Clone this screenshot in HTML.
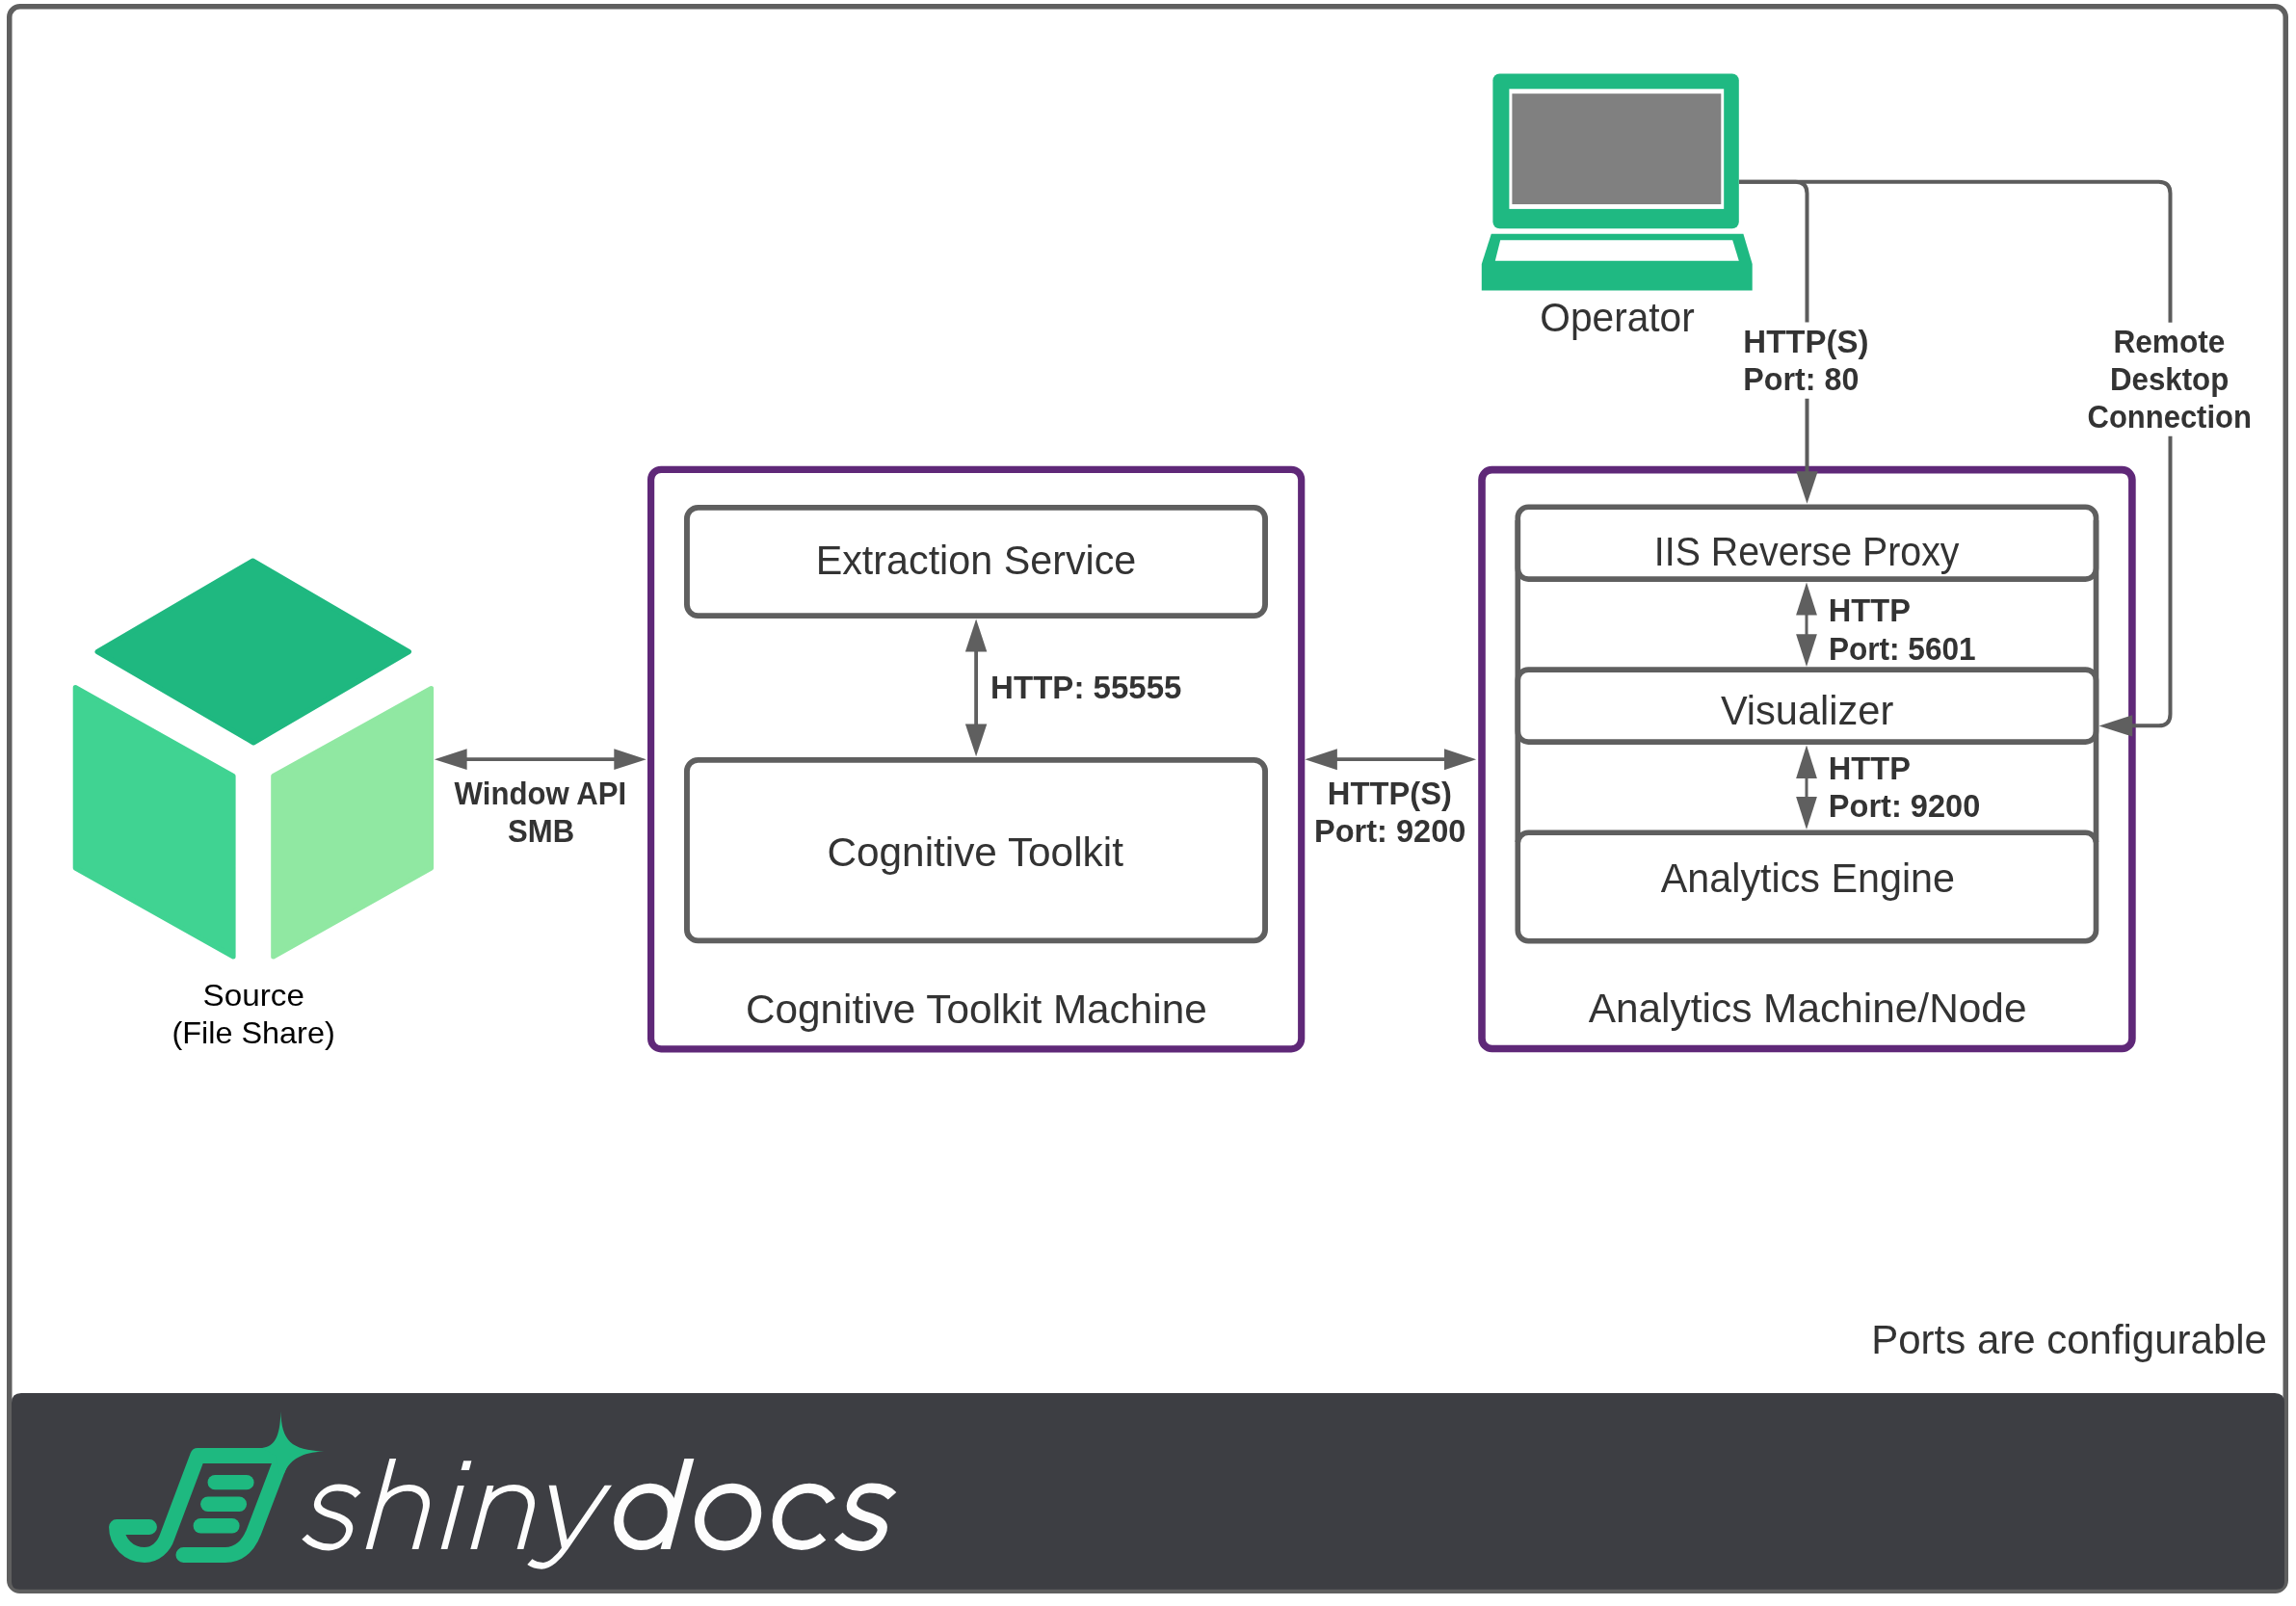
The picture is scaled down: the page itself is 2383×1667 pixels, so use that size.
<!DOCTYPE html>
<html><head><meta charset="utf-8"><style>
html,body{margin:0;padding:0;background:#ffffff;overflow:hidden;}
svg{display:block;will-change:transform;}
text{font-family:"Liberation Sans",sans-serif;}
</style></head><body>
<svg width="2383" height="1667" viewBox="0 0 2383 1667">
<rect width="2383" height="1667" fill="#ffffff"/>
<rect x="9.75" y="6.75" width="2362.5" height="1644.5" rx="11" fill="none" stroke="#5f5f5f" stroke-width="5.5"/>
<path d="M12,1456 Q12,1446 22,1446 H2361 Q2371,1446 2371,1456 V1642 Q2371,1649.8 2363,1649.8 H20 Q12,1649.8 12,1642 Z" fill="#3d3e43"/>
<rect x="1549.4" y="76.5" width="255.4" height="160.8" rx="7" fill="#1fb982"/>
<rect x="1566.4" y="92.3" width="222.8" height="124.6" fill="#ffffff"/>
<rect x="1569.4" y="97.2" width="216.9" height="114.8" fill="#808080"/>
<polygon points="1547.8,242.8 1809.4,242.8 1818.7,274 1818.7,301.4 1537.8,301.4 1537.8,274" fill="#1fb982"/>
<polygon points="1557.2,249.2 1798.2,249.2 1804.8,270.7 1551.8,270.7" fill="#ffffff"/>
<polygon points="262.4,582 424.5,676.5 263.1,771 101,676.5" fill="#1fb880" stroke="#1fb880" stroke-width="5" stroke-linejoin="round"/>
<polygon points="78.2,713.5 242.1,805.5 242.1,993 78.2,901" fill="#40d392" stroke="#40d392" stroke-width="5" stroke-linejoin="round"/>
<polygon points="447.6,714.5 283.7,805.5 283.7,993 447.6,901" fill="#90e8a2" stroke="#90e8a2" stroke-width="5" stroke-linejoin="round"/>
<line x1="484" y1="788.2" x2="638" y2="788.2" stroke="#5f5f5f" stroke-width="3.8"/>
<polygon points="450.9,788.2 484.6,777.3000000000001 484.6,799.1" fill="#5f5f5f"/>
<polygon points="670.8,788.2 637.3,777.3000000000001 637.3,799.1" fill="#5f5f5f"/>
<rect x="675.6" y="487.3" width="675.1" height="601.5" rx="10.5" fill="none" stroke="#5f2878" stroke-width="7.2"/>
<rect x="712.95" y="526.9" width="600.1" height="112.2" rx="11.5" fill="none" stroke="#5f5f5f" stroke-width="5.9"/>
<rect x="712.95" y="788.9" width="600.1" height="187.5" rx="11.5" fill="none" stroke="#5f5f5f" stroke-width="5.9"/>
<line x1="1013.1" y1="676" x2="1013.1" y2="752" stroke="#5f5f5f" stroke-width="3.8"/>
<polygon points="1013.1,642.5 1001.9,676.5 1024.3,676.5" fill="#5f5f5f"/>
<polygon points="1013.1,785.2 1001.9,751.6 1024.3,751.6" fill="#5f5f5f"/>
<line x1="1387" y1="788.2" x2="1500" y2="788.2" stroke="#5f5f5f" stroke-width="3.8"/>
<polygon points="1354.4,788.2 1387.9,777.2 1387.9,799.2" fill="#5f5f5f"/>
<polygon points="1532.1,788.2 1499,777.2 1499,799.2" fill="#5f5f5f"/>
<rect x="1538" y="487.6" width="674.9" height="600.9" rx="10.5" fill="none" stroke="#5f2878" stroke-width="7.6"/>
<line x1="1575.3" y1="540" x2="1575.3" y2="874" stroke="#5f5f5f" stroke-width="5.6"/>
<line x1="2175.5" y1="540" x2="2175.5" y2="874" stroke="#5f5f5f" stroke-width="5.6"/>
<rect x="1575.3" y="526.3" width="600.2" height="74.8" rx="11" fill="none" stroke="#5f5f5f" stroke-width="5.6"/>
<rect x="1575.3" y="695.1" width="600.2" height="75" rx="11" fill="none" stroke="#5f5f5f" stroke-width="5.6"/>
<rect x="1575.3" y="864.2" width="600.2" height="112.6" rx="11" fill="none" stroke="#5f5f5f" stroke-width="5.6"/>
<line x1="1875" y1="638" x2="1875" y2="659" stroke="#5f5f5f" stroke-width="3"/>
<polygon points="1875,604.6 1864.1,638.6 1885.9,638.6" fill="#5f5f5f"/>
<polygon points="1875,691.9 1864.1,658.2 1885.9,658.2" fill="#5f5f5f"/>
<line x1="1875" y1="807" x2="1875" y2="828" stroke="#5f5f5f" stroke-width="3"/>
<polygon points="1875,773.6 1864.1,807.9 1885.9,807.9" fill="#5f5f5f"/>
<polygon points="1875,860.9 1864.1,826.9 1885.9,826.9" fill="#5f5f5f"/>
<path d="M1805,188.7 H1863.5 Q1875.5,188.7 1875.5,200.7 V334.5 M1875.5,413.7 V490" fill="none" stroke="#5c5c5c" stroke-width="4"/>
<path d="M1805,188.7 H2240.5 Q2252.5,188.7 2252.5,200.7 V334.8 M2252.5,452.8 V741.2 Q2252.5,753.3 2240.5,753.3 H2212" fill="none" stroke="#5c5c5c" stroke-width="4"/>
<polygon points="1875.5,522.8 1864.3,489.2 1886.7,489.2" fill="#5f5f5f"/>
<polygon points="2178.5,753.4 2213.2,742.2 2213.2,764.6" fill="#5f5f5f"/>
<defs><clipPath id="yclip"><rect x="400" y="1541.8" width="400" height="100"/></clipPath></defs>
<g fill="none" stroke="#1eb980" stroke-width="15.9" stroke-linejoin="round" stroke-linecap="round">
<path d="M155,1585 H121 A29,29 0 0 0 150,1614 C161,1614 170,1606 173.6,1595 L205.2,1511 H293.5 L263.5,1590 C258,1604 249,1614 233.6,1614 H190.4"/>
</g>
<g fill="#1eb980">
<path d="M291.4,1465 C292.2,1495 302,1505.6 336.1,1506.4 C310,1507.3 299.3,1517.8 294.7,1530 L290,1530 L286,1511 L272,1503 C284.5,1501 290.6,1493 291.4,1465 Z"/>
<rect x="215.5" y="1531.1" width="48.1" height="15.2" rx="7.6"/>
<rect x="208.1" y="1553.4" width="47.9" height="15.5" rx="7.6"/>
<rect x="200.6" y="1576.1" width="48" height="15.3" rx="7.6"/>
</g>
<g transform="matrix(1,0,-0.263,1,422.9,0)" fill="none" stroke="#fdfdfd" stroke-linecap="butt" stroke-linejoin="miter">
<g stroke-width="6.8">
<path d="M356.9,1552.1 C351,1547 343,1544 334.2,1544 C324,1544 316.7,1550 316.7,1558.5 C316.7,1566 324,1569.5 337.5,1573 C351,1577 357.6,1582 357.6,1590 C357.6,1600 350,1606 341.5,1606 C330,1606 320,1601 312.8,1595.2"/>
<path d="M383,1513.9 V1608 M383,1568 C383,1554 393,1544.3 407,1544.3 C421,1544.3 431,1554 431,1568 V1608"/>
<path d="M461,1542 V1608"/>
<path d="M491.7,1542 V1608 M491.7,1568 C491.7,1554 501.7,1544.3 515.8,1544.3 C529.8,1544.3 540,1554 540,1568 V1608"/>
<path clip-path="url(#yclip)" d="M553.3,1536 L586.5,1607 M616.3,1536 L586.2,1607 C582,1617 575,1625.3 567.6,1625.3 C561,1625.3 557,1623.5 553.3,1621.2"/>
</g>
<rect x="457" y="1516.3" width="8.3" height="9.6" fill="#fdfdfd" stroke="none"/>
<g stroke-width="10">
<path d="M690.6,1513.9 V1608"/>
<path d="M911.5,1552.7 C905,1547 897,1544.4 886.9,1544.4 C877,1544.4 871.5,1551 871.5,1559.4 C871.5,1567 878,1571 890.4,1574.5 C903,1578 910.5,1582 910.5,1589 C910.5,1598 903,1604.9 894,1604.9 C883,1604.9 873,1600 866.7,1594.5"/>
</g>
</g>
<g fill="none" stroke="#fdfdfd" stroke-width="10">
<ellipse cx="0" cy="0" rx="27.5" ry="29.6" transform="translate(670,1574.4) skewX(-8)"/>
<ellipse cx="0" cy="0" rx="29.3" ry="29.8" transform="translate(755.6,1574.6) skewX(-7)"/>
<path d="M24.25,-16.3 A29.1,29.5 0 1 0 20.8,20.6" transform="translate(836,1574.4) skewX(-7.4)"/>
</g>

<text x="1598.32" y="343.8" font-size="43.2" fill="#333333" textLength="160.44" lengthAdjust="spacingAndGlyphs">Operator</text>
<text x="846.71" y="596.2" font-size="42.9" fill="#333333" textLength="332.57" lengthAdjust="spacingAndGlyphs">Extraction Service</text>
<text x="858.43" y="898.9" font-size="42.9" fill="#333333" textLength="307.49" lengthAdjust="spacingAndGlyphs">Cognitive Toolkit</text>
<text x="774.03" y="1061.7" font-size="42.9" fill="#333333" textLength="478.69" lengthAdjust="spacingAndGlyphs">Cognitive Toolkit Machine</text>
<text x="1716.85" y="587.4" font-size="42.9" fill="#333333" textLength="316.64" lengthAdjust="spacingAndGlyphs">IIS Reverse Proxy</text>
<text x="1785.90" y="751.7" font-size="42.9" fill="#333333" textLength="179.37" lengthAdjust="spacingAndGlyphs">Visualizer</text>
<text x="1723.80" y="925.7" font-size="42.9" fill="#333333" textLength="305.18" lengthAdjust="spacingAndGlyphs">Analytics Engine</text>
<text x="1648.70" y="1061.2" font-size="42.9" fill="#333333" textLength="454.83" lengthAdjust="spacingAndGlyphs">Analytics Machine/Node</text>
<text x="1942.26" y="1404.8" font-size="42.9" fill="#333333" textLength="410.65" lengthAdjust="spacingAndGlyphs">Ports are configurable</text>
<text x="210.63" y="1044" font-size="31.2" fill="#000000" textLength="105.30" lengthAdjust="spacingAndGlyphs">Source</text>
<text x="178.46" y="1083.1" font-size="31.2" fill="#000000" textLength="169.28" lengthAdjust="spacingAndGlyphs">(File Share)</text>
<text x="1809.32" y="365.8" font-size="33.3" font-weight="bold" fill="#333333" textLength="130.06" lengthAdjust="spacingAndGlyphs">HTTP(S)</text>
<text x="1809.36" y="405" font-size="33.3" font-weight="bold" fill="#333333" textLength="120.04" lengthAdjust="spacingAndGlyphs">Port: 80</text>
<text x="2193.40" y="366.2" font-size="33.3" font-weight="bold" fill="#333333" textLength="116.09" lengthAdjust="spacingAndGlyphs">Remote</text>
<text x="2190.02" y="405.2" font-size="33.3" font-weight="bold" fill="#333333" textLength="123.23" lengthAdjust="spacingAndGlyphs">Desktop</text>
<text x="2166.57" y="444.4" font-size="33.3" font-weight="bold" fill="#333333" textLength="170.28" lengthAdjust="spacingAndGlyphs">Connection</text>
<text x="1028.11" y="725" font-size="33.3" font-weight="bold" fill="#333333" textLength="198.40" lengthAdjust="spacingAndGlyphs">HTTP: 55555</text>
<text x="471.60" y="835.1" font-size="33.3" font-weight="bold" fill="#333333" textLength="178.56" lengthAdjust="spacingAndGlyphs">Window API</text>
<text x="527.10" y="874.3" font-size="33.3" font-weight="bold" fill="#333333" textLength="69.08" lengthAdjust="spacingAndGlyphs">SMB</text>
<text x="1377.83" y="835.2" font-size="33.3" font-weight="bold" fill="#333333" textLength="129.03" lengthAdjust="spacingAndGlyphs">HTTP(S)</text>
<text x="1363.94" y="874" font-size="33.3" font-weight="bold" fill="#333333" textLength="157.46" lengthAdjust="spacingAndGlyphs">Port: 9200</text>
<text x="1897.84" y="645.4" font-size="33.3" font-weight="bold" fill="#333333" textLength="85.06" lengthAdjust="spacingAndGlyphs">HTTP</text>
<text x="1897.90" y="684.9" font-size="33.3" font-weight="bold" fill="#333333" textLength="152.69" lengthAdjust="spacingAndGlyphs">Port: 5601</text>
<text x="1897.84" y="808.9" font-size="33.3" font-weight="bold" fill="#333333" textLength="85.06" lengthAdjust="spacingAndGlyphs">HTTP</text>
<text x="1897.84" y="847.8" font-size="33.3" font-weight="bold" fill="#333333" textLength="157.46" lengthAdjust="spacingAndGlyphs">Port: 9200</text>
</svg>
</body></html>
